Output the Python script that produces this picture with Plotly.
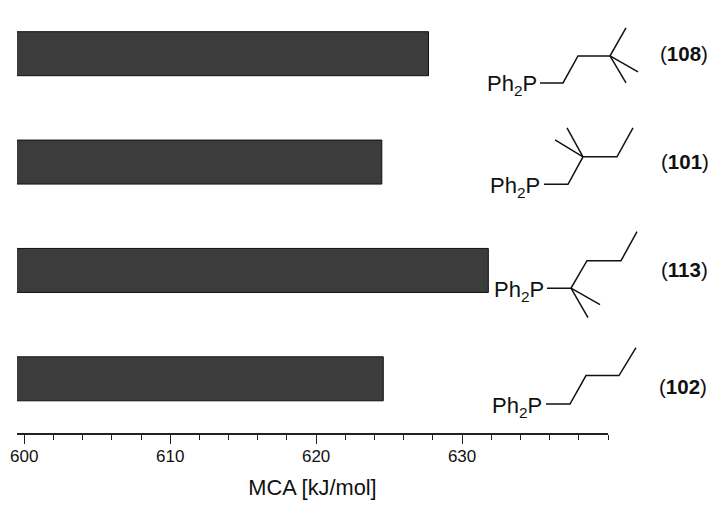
import plotly.graph_objects as go

# The page sets the figure 8 px in from the window's top-left corner
PAGE_INSET = 8
W, H = 710, 501
L, R, T, B = 17, 608, 8, 433.5  # plot area in window pixels

compounds = ["(102)", "(113)", "(101)", "(108)"]
mca_values = [624.6, 631.8, 624.5, 627.7]
x_ticks = [600, 610, 620, 630]

# Skeletal formula drawings (decoration, window pixels)
skeleton_108 = [[(540, 83), (563, 83), (578, 56), (610, 56), (626, 28)], [(610, 56), (638, 72)], [(610, 56), (626, 83)]]
skeleton_101 = [[(544, 184.5), (568, 184.5), (583, 157), (617, 157), (633, 128)], [(583, 157), (567, 128)], [(583, 157), (555, 140)]]
skeleton_113 = [[(547, 288.5), (571, 288.5), (587, 261), (621, 261), (637, 232)], [(571, 288.5), (600, 305)], [(571, 288.5), (588, 318)]]
skeleton_102 = [[(546, 404.5), (570, 404.5), (586, 376), (619, 376), (636, 348)]]
skeletons = [skeleton_108, skeleton_101, skeleton_113, skeleton_102]
formula_anchor = [(485, 85), (488, 187), (492, 291), (490, 407)]
label_anchor = [(684, 54), (685, 162), (684, 270), (683, 387)]
label_order = ["108", "101", "113", "102"]


def fx(x):
    return (x - L) / (R - L)


def fy(y):
    return (B - y) / (B - T)


shapes = []
for sk in skeletons:
    for seg in sk:
        d = "M " + " L ".join(f"{fx(x):.5f},{fy(y):.5f}" for x, y in seg)
        shapes.append(dict(type="path", path=d, xref="paper", yref="paper",
                           line=dict(color="#111111", width=1.5)))

annotations = []
for (x, y) in formula_anchor:
    annotations.append(dict(text="Ph<sub>2</sub>P", x=fx(x), y=fy(y), xref="paper", yref="paper",
                            xanchor="left", yanchor="middle", showarrow=False,
                            font=dict(family="Liberation Sans", size=22, color="#111111")))
for (x, y), n in zip(label_anchor, label_order):
    annotations.append(dict(text=f"(<b>{n}</b>)", x=fx(x), y=fy(y), xref="paper", yref="paper",
                            xanchor="center", yanchor="middle", showarrow=False,
                            font=dict(family="Liberation Sans", size=20.5, color="#111111")))

fig = go.Figure(go.Bar(
    y=compounds, x=mca_values, orientation="h",
    marker=dict(color="#3c3c3c", line=dict(color="#111111", width=1)),
    showlegend=False,
))
fig.update_layout(
    width=W, height=H, autosize=False,
    margin=dict(l=L - PAGE_INSET, r=W + PAGE_INSET - R, t=T - PAGE_INSET, b=H + PAGE_INSET - B, pad=0),
    paper_bgcolor="white", plot_bgcolor="white",
    bargap=0.594, shapes=shapes, annotations=annotations,
    font=dict(family="Liberation Sans", color="#111111"),
)
fig.update_xaxes(
    range=[599.5, 640], tickvals=x_ticks, ticks="outside", ticklen=9, tickwidth=1.2,
    ticklabelstandoff=-2,
    tickcolor="#222222", showgrid=False, zeroline=False, showline=True, linecolor="#222222", linewidth=1.5,
    minor=dict(dtick=2, tick0=600, ticks="outside", ticklen=5, tickwidth=1.2, tickcolor="#222222", showgrid=False),
    tickfont=dict(size=17, family="Liberation Sans"),
    title=dict(text="MCA [kJ/mol]", font=dict(size=21.8, family="Liberation Sans"), standoff=15),
)
fig.update_yaxes(
    type="category", categoryorder="array", categoryarray=compounds,
    range=[-0.5, -0.5 + (B - T) / 108.5], showticklabels=False, ticks="", showgrid=False, zeroline=False, showline=False,
)
fig.write_html("out.html")
